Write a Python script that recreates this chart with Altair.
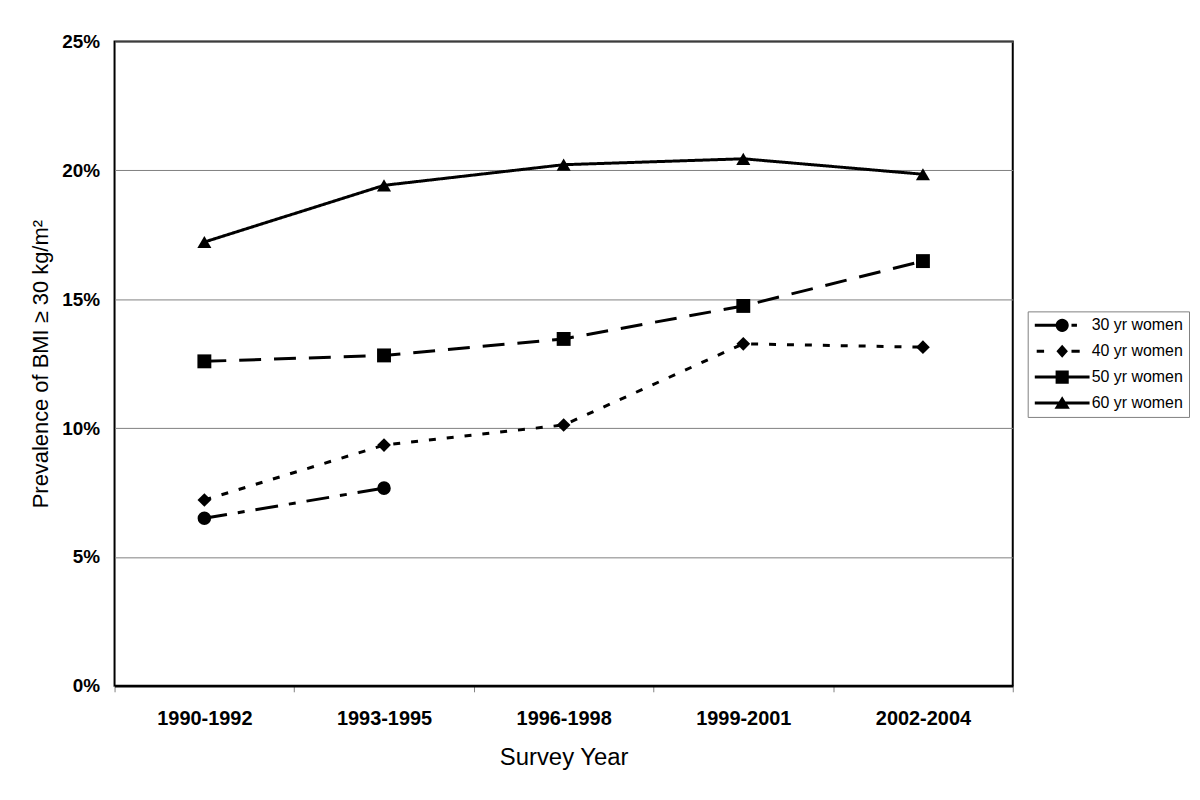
import math
import altair as alt
import pandas as pd

# ---- data ----
periods = ["1990-1992", "1993-1995", "1996-1998", "1999-2001", "2002-2004"]
series_names = ["30 yr women", "40 yr women", "50 yr women", "60 yr women"]
women_30 = [0.0650, 0.0767, None, None, None]
women_40 = [0.0721, 0.0934, 0.1012, 0.1327, 0.1314]
women_50 = [0.1259, 0.1282, 0.1346, 0.1474, 0.1648]
women_60 = [0.1722, 0.1942, 0.2022, 0.2045, 0.1985]
y_ticks = [0.0, 0.05, 0.10, 0.15, 0.20, 0.25]

rows = []
for name, vals in zip(series_names, [women_30, women_40, women_50, women_60]):
    for p, v in zip(periods, vals):
        if v is not None:
            rows.append({"period": p, "series": name, "value": v})
df = pd.DataFrame(rows)

FONT = "Liberation Sans"

# ---- legend symbols (line segment + marker) as filled SVG paths ----
K = 4.0          # path half-width in symbol units (keeps legend rows compact)
SYM_W = 55.0     # legend symbol width in px
T = 1.5 / (SYM_W / 2)  # half line thickness (1.5 px) in unit coords


def poly(pts):
    return "M" + "L".join(f"{x * K:.3f},{y * K:.3f}" for x, y in pts) + "Z"


def seg(a, b):
    return poly([(a, -T), (b, -T), (b, T), (a, T)])


def circle(r, n=24):
    return poly([(r * math.cos(2 * math.pi * k / n), r * math.sin(2 * math.pi * k / n)) for k in range(n)])


leg_30 = seg(-1, -0.15) + seg(0.34, 0.54) + circle(0.24)
leg_40 = seg(-0.93, -0.66) + seg(0.34, 0.64) + poly([(-0.21, 0), (0, -0.24), (0.21, 0), (0, 0.24)])
leg_50 = seg(-1, 1) + poly([(-0.24, -0.24), (0.24, -0.24), (0.24, 0.24), (-0.24, 0.24)])
leg_60 = seg(-1, 1) + poly([(0, -0.25), (0.28, 0.21), (-0.28, 0.21)])

SYM_SIZE = (SYM_W / K) ** 2      # vega scales custom paths by sqrt(size)/2
ENTRY = math.sqrt(SYM_SIZE)      # vega's entry "size" (sqrt(size) + stroke 0)
SYM_OFFSET = SYM_W / 2 - ENTRY / 2
LABEL_OFFSET = SYM_W + 1 - ENTRY - SYM_OFFSET

x_enc = alt.X(
    "period:N",
    sort=periods,
    bandPosition=0.5,
    scale=alt.Scale(type="band", domain=periods, paddingInner=0, paddingOuter=0),
    axis=alt.Axis(
        title="Survey Year",
        labelAngle=0,
        tickBand="extent",
        ticks=True,
        tickSize=6,
        tickColor="#808080",
        tickWidth=1,
        domainColor="black",
        domainWidth=2.5,
        grid=False,
        labelFont=FONT,
        labelFontSize=20,
        labelFontWeight="bold",
        labelColor="black",
        labelPadding=17,
        titleFont=FONT,
        titleFontSize=24,
        titleFontWeight="normal",
        titleColor="black",
        titlePadding=17,
    ),
)

y_enc = alt.Y(
    "value:Q",
    scale=alt.Scale(domain=[0, 0.25], nice=False, zero=True),
    axis=alt.Axis(
        values=y_ticks,
        format=".0%",
        title="Prevalence of BMI ≥ 30 kg/m²",
        ticks=False,
        domain=False,
        grid=True,
        gridColor="#808080",
        gridWidth=1,
        labelFont=FONT,
        labelFontSize=19,
        labelFontWeight="bold",
        labelColor="black",
        labelPadding=15,
        titleFont=FONT,
        titleFontSize=22,
        titleFontWeight="normal",
        titleColor="black",
        titlePadding=9,
    ),
)

base = alt.Chart(df)

lines = base.mark_line(color="black", strokeWidth=3).encode(
    x=x_enc,
    y=y_enc,
    strokeDash=alt.StrokeDash(
        "series:N",
        scale=alt.Scale(domain=series_names, range=[[23, 11, 7, 11], [7, 11], [22, 13], [1, 0]]),
        legend=None,
    ),
)

points = base.mark_point(filled=True, color="black", opacity=1).encode(
    x=x_enc,
    y=y_enc,
    shape=alt.Shape(
        "series:N",
        scale=alt.Scale(domain=series_names, range=["circle", "diamond", "square", "triangle-up"]),
        legend=None,
    ),
    size=alt.Size(
        "series:N",
        scale=alt.Scale(domain=series_names, range=[185, 200, 175, 190]),
        legend=None,
    ),
)

legend_layer = base.mark_point(
    filled=True, color="black", strokeWidth=0, opacity=0, size=SYM_SIZE
).encode(
    x=x_enc,
    y=y_enc,
    shape=alt.Shape(
        "series:N",
        scale=alt.Scale(domain=series_names, range=[leg_30, leg_40, leg_50, leg_60]),
        legend=alt.Legend(
            title=None,
            orient="none",
            legendX=917,
            legendY=271,
            labelFont=FONT,
            labelFontSize=16,
            labelColor="black",
            labelOffset=LABEL_OFFSET,
            symbolOffset=SYM_OFFSET,
            symbolSize=SYM_SIZE,
            symbolStrokeWidth=0,
            symbolFillColor="black",
            symbolOpacity=1,
            strokeColor="#808080",
            padding=6,
            rowPadding=10,
        ),
    ),
)

chart = (
    alt.layer(lines, points, legend_layer)
    .resolve_scale(shape="independent", size="independent")
    .properties(
        width=902,
        height=647,
        autosize=alt.AutoSizeParams(type="none"),
        padding={"left": 107, "top": 32, "right": 180, "bottom": 110},
        background="white",
    )
    .configure_view(stroke="black", strokeWidth=2)
)

chart.save("out.html", embed_options={"renderer": "svg", "actions": False})
